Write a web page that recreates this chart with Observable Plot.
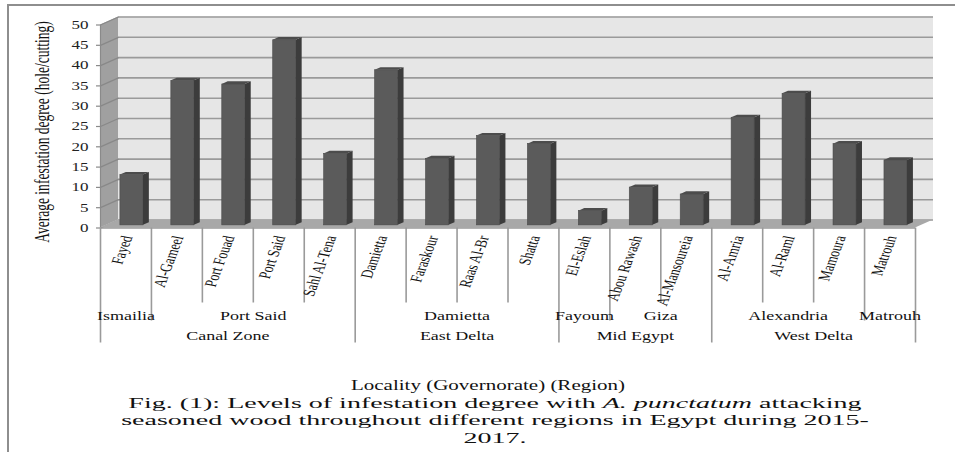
<!DOCTYPE html>
<html><head><meta charset="utf-8">
<script src="https://cdn.jsdelivr.net/npm/d3@7"></script>
<script src="https://cdn.jsdelivr.net/npm/@observablehq/plot@0.6"></script>
<style>
html,body{margin:0;padding:0;background:#fff;}
#wrap{position:relative;width:955px;height:452px;overflow:hidden;background:#fff;}
#frame{position:absolute;left:7px;top:4px;width:980px;height:480px;border-top:2px solid #8e8e8e;border-left:2px solid #8e8e8e;}
#chart{position:absolute;left:0;top:0;}
.cap{position:absolute;white-space:nowrap;font-family:"Liberation Serif",serif;color:#111;text-align:center;transform-origin:50% 50%;}
.fig{left:95px;width:800px;font-size:28px;line-height:28px;transform:scaleY(0.55);}
</style></head>
<body><div id="wrap"><div id="frame"></div><div id="chart"></div>
<div class="cap" id="xlabel" style="left:188px;width:600px;top:374.7px;font-size:21px;line-height:21px;transform:scaleY(0.68);">Locality (Governorate) (Region)</div>
<div class="cap fig" style="top:388.8px;">Fig. (1): Levels of infestation degree with <i>A. punctatum</i> attacking</div>
<div class="cap fig" style="top:406.3px;">seasoned wood throughout different regions in Egypt during 2015-</div>
<div class="cap fig" style="top:423.8px;">2017.</div>
</div>
<script>
// ---------------- data ----------------
const localities = ["Fayed","Al-Gameel","Port Fouad","Port Said","Sahl Al-Tena","Damietta","Faraskour","Raas Al-Br","Shatta","El-Eslah","Abou Rawash","Al-Mansoureia","Al-Amria","Al-Raml","Mamoura","Matrouh"];
const governorates = ["Ismailia","Port Said","Port Said","Port Said","Port Said","Damietta","Damietta","Damietta","Damietta","Fayoum","Giza","Giza","Alexandria","Alexandria","Alexandria","Matrouh"];
const regions = ["Canal Zone","Canal Zone","Canal Zone","Canal Zone","Canal Zone","East Delta","East Delta","East Delta","East Delta","Mid Egypt","Mid Egypt","Mid Egypt","West Delta","West Delta","West Delta","West Delta"];
const infestation = [12.4, 35.6, 34.7, 45.6, 17.6, 38.2, 16.4, 22.0, 20.0, 3.5, 9.3, 7.6, 26.5, 32.4, 20.0, 16.0];
const yTicks = [0,5,10,15,20,25,30,35,40,45,50];
const yTitle = "Average infestation degree (hole/cutting)";

// ---------------- layout ----------------
const W = 955, H = 360, mL = 100, mR = 40, mT = 24.5, mB = H - 227.5;
const n = localities.length;
const ux = (W - mL - mR) / n;          // px per category
const uy = (H - mT - mB) / 50;         // px per unit
const DX = 18 / ux, DY = 8 / uy;       // depth of the 3D box in data units
const F = 0.33, B = 0.33, HW = 0.226;  // bar depth position, bar depth, half width
const SQ = 0.7;                        // vertical squish of text
const SQ_TITLE = 0.615;

const idx = d3.range(n);
const lo = -0.5, hi = n - 0.5;

// bars
const bars = idx.map(i => ({i, v: infestation[i], x1: i - HW + F*DX, x2: i + HW + F*DX, y0: F*DY}));
const sidePts = bars.flatMap(b => [
  {k: b.i, x: b.x2, y1: b.y0, y2: b.v + b.y0},
  {k: b.i, x: b.x2 + B*DX, y1: b.y0 + B*DY, y2: b.v + b.y0 + B*DY}
]);
const topPts = bars.flatMap(b => {
  const t = b.v + b.y0, t2 = t + B*DY;
  return [
    {k: b.i, x: b.x1, y1: t, y2: t},
    {k: b.i, x: b.x1 + B*DX, y1: t, y2: t2},
    {k: b.i, x: b.x2, y1: t, y2: t2},
    {k: b.i, x: b.x2 + B*DX, y1: t2, y2: t2}
  ];
});
// walls
const leftWall = [{x: lo, y1: 0, y2: 50}, {x: lo + DX, y1: DY, y2: 50 + DY}];
const floor = [{x: lo, y1: 0, y2: 0}, {x: lo + DX, y1: 0, y2: DY}, {x: hi, y1: 0, y2: DY}, {x: hi + DX, y1: DY, y2: DY}];

// groups
function runs(arr) {
  const out = [];
  arr.forEach((g, i) => {
    if (i > 0 && arr[i-1] === g) out[out.length-1].end = i;
    else out.push({name: g, start: i, end: i});
  });
  return out.map(r => ({...r, mid: (r.start + r.end) / 2}));
}
const govRuns = runs(governorates);
const regRuns = runs(regions);
const seps = d3.range(n + 1).map(k => {
  let len = 75;
  if (k === 0 || k === n || regions[k] !== regions[k-1]) len = 115;
  else if (governorates[k] !== governorates[k-1]) len = 93;
  return {x: k - 0.5, y2: -len / uy};
});

const chart = Plot.plot({
  width: W, height: H,
  marginLeft: mL, marginRight: mR, marginTop: mT, marginBottom: mB,
  x: {type: "linear", domain: [lo, hi], axis: null},
  y: {type: "linear", domain: [0, 50], axis: null},
  style: {fontFamily: "'Liberation Serif', serif", fontSize: "17px", color: "#222", background: "transparent", overflow: "visible"},
  marks: [
    // back wall
    Plot.rect([0], {x1: lo + DX, x2: hi + DX, y1: DY, y2: 50 + DY, fill: "#e6e6e6"}),
    // left wall
    Plot.area(leftWall, {x1: "x", y1: "y1", y2: "y2", fill: "#a0a0a0"}),
    // gridlines
    Plot.ruleY(yTicks, {y: d => d + DY, x1: lo + DX, x2: hi + DX, stroke: "#9a9a9a", strokeWidth: 1.6}),
    Plot.link(yTicks, {x1: lo, y1: d => d, x2: lo + DX, y2: d => d + DY, stroke: "#888", strokeWidth: 1.3}),
    // floor
    Plot.area(floor, {x1: "x", y1: "y1", y2: "y2", fill: "#a8a8a8"}),
    // bars
    Plot.rect(bars, {x1: "x1", x2: "x2", y1: "y0", y2: d => d.v + d.y0, fill: "#5b5b5b", stroke: "#4a4a4a", strokeWidth: 0.6}),
    Plot.area(sidePts, {x1: "x", y1: "y1", y2: "y2", z: "k", fill: "#3c3c3c"}),
    Plot.area(topPts, {x1: "x", y1: "y1", y2: "y2", z: "k", fill: "#4c4c4c"}),
    // axis lines
    Plot.ruleX([lo], {y1: 0, y2: 50, stroke: "#8a8a8a", strokeWidth: 1.2}),
    Plot.ruleY(yTicks, {y: d => d, x1: lo, x2: lo - 4 / ux, stroke: "#8a8a8a", strokeWidth: 1.2}),
    Plot.ruleY([0], {x1: lo, x2: hi, stroke: "#9a9a9a", strokeWidth: 1.4}),
    Plot.ruleX(seps, {x: "x", y1: 0, y2: "y2", stroke: "#9a9a9a", strokeWidth: 1.6}),
    // tick labels
    Plot.text(yTicks, {x: lo, y: d => d, text: d => String(d), textAnchor: "end", dx: -12, fontSize: 17, fill: "#222"}),
    // y title
    Plot.text([yTitle], {frameAnchor: "left", text: d => d, rotate: -90, textAnchor: "middle", dx: -59, dy: 5.5, fontSize: 22, fill: "#111"}),
    // locality labels
    Plot.text(idx, {x: i => i, y: 0, text: i => localities[i], rotate: -75, textAnchor: "end", dx: 1.5, dy: 8, fontSize: 17, fill: "#111"}),
    // governorate labels
    Plot.text(govRuns, {x: "mid", y: 0, text: "name", dy: 87.5, fontSize: 18, fill: "#111"}),
    // region labels
    Plot.text(regRuns, {x: "mid", y: 0, text: "name", dy: 107.5, fontSize: 18, fill: "#111"})
  ]
});

// vertical squish of all text, as in the reference
chart.querySelectorAll("text").forEach(t => {
  const s = t.textContent === yTitle ? SQ_TITLE : SQ;
  const tr = t.getAttribute("transform");
  if (tr && /^translate\(/.test(tr)) {
    t.setAttribute("transform", tr.replace(/^(translate\([^)]*\))/, `$1 scale(1,${s})`));
  } else {
    const x = +t.getAttribute("x") || 0, y = +t.getAttribute("y") || 0;
    t.removeAttribute("x"); t.removeAttribute("y");
    t.setAttribute("transform", `translate(${x},${y}) scale(1,${s})` + (tr ? " " + tr : ""));
  }
});
document.getElementById("chart").appendChild(chart);
</script>
</body></html>
